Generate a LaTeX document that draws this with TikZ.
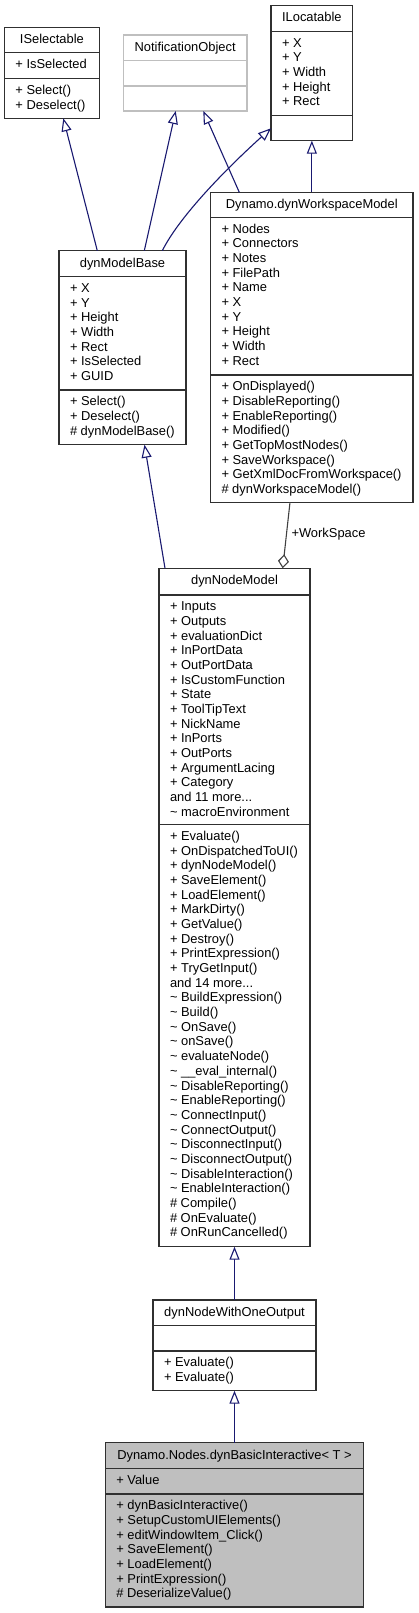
\documentclass[tikz,border=0pt]{standalone}
\usepackage{fontspec}
\setmainfont{Liberation Sans}
\usetikzlibrary{arrows.meta,calc}
\definecolor{edgeblue}{HTML}{191970}
\definecolor{boxline}{HTML}{303030}
\definecolor{aggline}{HTML}{404040}
\definecolor{extgray}{HTML}{BFBFBF}
\definecolor{hilite}{HTML}{BFBFBF}
\newcommand{\threedots}{...}
\tikzset{
  cls/.style={draw=boxline, line width=1.1pt, inner sep=0pt, outer sep=0pt, anchor=north west},
  sepline/.style={draw=boxline, line width=1.1pt},
  txt/.style={inner sep=0pt, outer sep=0pt, font=\fontsize{12.9}{14.67}\selectfont},
  inh/.style={draw=edgeblue, line width=1.1pt, -{Triangle[open,length=13pt,width=10pt,fill=white]}},
  agg/.style={draw=aggline, line width=1.1pt, {Diamond[open,length=14pt,width=11pt,fill=white]}-},
}
% name, L, T, R, S1, S2, B, style, title
\newcommand{\umlclass}[9]{%
  \node[cls,#8, minimum width={#4pt-#2pt}, minimum height={#7pt-#3pt}] (#1) at (#2,#3) {};
  \draw[sepline,#8] (#2,#5) -- (#4,#5);
  \draw[sepline,#8] (#2,#6) -- (#4,#6);
  \node[txt, anchor=base] (#1-title) at ({(#2+#4)/2},{#3+16.3}) {#9};
}
% prefix, L, separator y, list
\newcommand{\umllines}[4]{%
  \foreach \t [count=\i] in {#4} {
    \node[txt, anchor=base west] (#1-\i) at ({#2+11},{#3+15.9+(\i-1)*14.67}) {\t};
  }
}
\begin{document}
\begin{tikzpicture}[x=1pt,y=-1pt]
\useasboundingbox (0,0) rectangle (419,1613);

% ISelectable
\umlclass{isel}{4.5}{27.7}{99.3}{52.7}{78.7}{118.3}{}{ISelectable}
\umllines{isel-a}{4.5}{52.7}{{+ IsSelected}}
\umllines{isel-m}{4.5}{78.7}{{+ Select()},{+ Deselect()}}

% NotificationObject
\umlclass{notif}{123.3}{35}{247}{60.7}{86}{111}{draw=extgray}{NotificationObject}

% ILocatable
\umlclass{iloc}{271}{5.3}{352.7}{31.3}{115.3}{140.7}{}{ILocatable}
\umllines{iloc-a}{271}{31.3}{{+ X},{+ Y},{+ Width},{+ Height},{+ Rect}}

% Dynamo.dynWorkspaceModel
\umlclass{ws}{210.5}{192.3}{413}{217.3}{375}{502.3}{}{Dynamo.dynWorkspaceModel}
\umllines{ws-a}{210.5}{217.3}{{+ Nodes},{+ Connectors},{+ Notes},{+ FilePath},{+ Name},{+ X},{+ Y},{+ Height},{+ Width},{+ Rect}}
\umllines{ws-m}{210.5}{375}{{+ OnDisplayed()},{+ DisableReporting()},{+ EnableReporting()},{+ Modified()},{+ GetTopMostNodes()},{+ SaveWorkspace()},{+ GetXmlDocFromWorkspace()},{\# dynWorkspaceModel()}}

% dynModelBase
\umlclass{mbase}{59}{250.7}{186}{276.7}{390}{444.7}{}{dynModelBase}
\umllines{mbase-a}{59}{276.7}{{+ X},{+ Y},{+ Height},{+ Width},{+ Rect},{+ IsSelected},{+ GUID}}
\umllines{mbase-m}{59}{390}{{+ Select()},{+ Deselect()},{\# dynModelBase()}}

% dynNodeModel
\umlclass{nm}{159}{568.3}{310}{595}{824.7}{1246.7}{}{dynNodeModel}
\umllines{nm-a}{159}{595}{{+ Inputs},{+ Outputs},{+ evaluationDict},{+ InPortData},{+ OutPortData},{+ IsCustomFunction},{+ State},{+ ToolTipText},{+ NickName},{+ InPorts},{+ OutPorts},{+ ArgumentLacing},{+ Category},{and 11 more\threedots},{\textasciitilde{} macroEnvironment}}
\umllines{nm-m}{159}{824.7}{{+ Evaluate()},{+ OnDispatchedToUI()},{+ dynNodeModel()},{+ SaveElement()},{+ LoadElement()},{+ MarkDirty()},{+ GetValue()},{+ Destroy()},{+ PrintExpression()},{+ TryGetInput()},{and 14 more\threedots},{\textasciitilde{} BuildExpression()},{\textasciitilde{} Build()},{\textasciitilde{} OnSave()},{\textasciitilde{} onSave()},{\textasciitilde{} evaluateNode()},{\textasciitilde{} \_\_eval\_internal()},{\textasciitilde{} DisableReporting()},{\textasciitilde{} EnableReporting()},{\textasciitilde{} ConnectInput()},{\textasciitilde{} ConnectOutput()},{\textasciitilde{} DisconnectInput()},{\textasciitilde{} DisconnectOutput()},{\textasciitilde{} DisableInteraction()},{\textasciitilde{} EnableInteraction()},{\# Compile()},{\# OnEvaluate()},{\# OnRunCancelled()}}

% dynNodeWithOneOutput
\umlclass{one}{153}{1300}{316}{1325.3}{1351}{1390.7}{}{dynNodeWithOneOutput}
\umllines{one-m}{153}{1351}{{+ Evaluate()},{+ Evaluate()}}

% dynBasicInteractive
\umlclass{basic}{105.3}{1442.7}{363.7}{1468.7}{1494}{1607}{fill=hilite}{Dynamo.Nodes.dynBasicInteractive< T >}
\umllines{basic-a}{105.3}{1468.7}{{+ Value}}
\umllines{basic-m}{105.3}{1494}{{+ dynBasicInteractive()},{+ SetupCustomUIElements()},{+ editWindowItem\_Click()},{+ SaveElement()},{+ LoadElement()},{+ PrintExpression()},{\# DeserializeValue()}}

% inheritance connectors
\draw[inh] ([xshift=38.3pt]mbase.north west) -- ([xshift=58.8pt]isel.south west);
\draw[inh] ([xshift=85.3pt]mbase.north west) -- ([xshift=52.4pt]notif.south west);
\draw[inh] ([xshift=103.3pt]mbase.north west) .. controls +(18,-36) and +(-41,37) .. ([yshift=-123pt]iloc.north west);
\draw[inh] ([xshift=28.8pt]ws.north west) -- ([xshift=80pt]notif.south west);
\draw[inh] (iloc.south |- ws.north) -- (iloc.south);
\draw[inh] ([xshift=6pt]nm.north west) -- ([xshift=85.5pt]mbase.south west);
\draw[inh] (one.north) -- (nm.south);
\draw[inh] (basic.north) -- (one.south);

% aggregation
\draw[agg] ([xshift=123.7pt]nm.north west) -- ([xshift=79.5pt]ws.south west);
\node[txt, anchor=west] (wslabel) at (291.5,534) {+WorkSpace};
\end{tikzpicture}
\end{document}
